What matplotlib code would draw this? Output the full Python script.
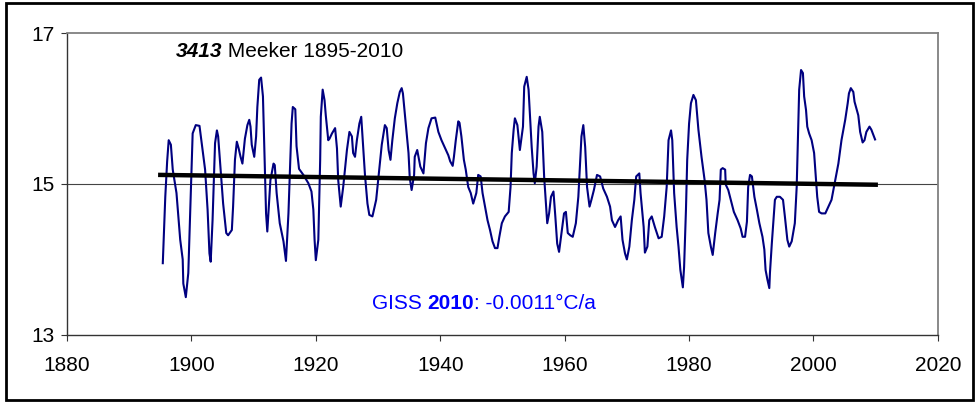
import matplotlib
matplotlib.use("Agg")
import matplotlib.pyplot as plt
import matplotlib.patches as patches
from matplotlib.transforms import offset_copy

plt.rcParams['font.family'] = ['Liberation Sans', 'DejaVu Sans']

# Station series (smoothed annual temperature, deg C)
years = [
    1895.4, 1895.8, 1896.1, 1896.35, 1896.7, 1897.0, 1897.6, 1898.2, 1898.6, 1898.7,
    1899.1, 1899.5, 1899.9, 1900.2, 1900.7, 1901.3, 1901.6, 1902.2, 1902.6, 1902.9,
    1903.1, 1903.4, 1903.8, 1904.1, 1904.3, 1904.7, 1905.1, 1905.6, 1905.9, 1906.5,
    1906.7, 1907.0, 1907.3, 1907.6, 1907.9, 1908.2, 1908.6, 1909.0, 1909.3, 1909.5,
    1909.7, 1910.1, 1910.4, 1910.6, 1910.9, 1911.2, 1911.5, 1911.7, 1912.0, 1912.2,
    1912.5, 1912.7, 1913.2, 1913.4, 1913.7, 1914.2, 1914.8, 1915.2, 1915.6, 1915.9,
    1916.1, 1916.3, 1916.7, 1916.9, 1917.3, 1918.0, 1918.8, 1919.3, 1919.6, 1919.8,
    1920.0, 1920.4, 1920.7, 1920.8, 1921.1, 1921.4, 1921.6, 1922.0, 1922.2, 1922.6,
    1923.1, 1923.4, 1923.6, 1924.0, 1924.4, 1925.0, 1925.4, 1925.8, 1926.0, 1926.3,
    1926.6, 1927.0, 1927.3, 1927.5, 1927.9, 1928.3, 1928.6, 1929.1, 1929.7, 1930.2,
    1930.6, 1931.1, 1931.4, 1931.7, 1932.0, 1932.3, 1932.7, 1933.1, 1933.5, 1933.8,
    1934.0, 1934.5, 1934.9, 1935.1, 1935.4, 1935.8, 1935.9, 1936.3, 1936.8, 1937.3,
    1937.7, 1938.1, 1938.6, 1939.2, 1939.7, 1940.2, 1940.8, 1941.3, 1941.6, 1942.0,
    1942.2, 1942.5, 1942.9, 1943.1, 1943.4, 1943.8, 1944.1, 1944.5, 1944.9, 1945.3,
    1945.8, 1946.1, 1946.5, 1946.8, 1947.2, 1947.6, 1948.0, 1948.4, 1948.8, 1949.2,
    1949.5, 1949.9, 1950.4, 1951.0, 1951.3, 1951.5, 1951.8, 1952.0, 1952.4, 1952.8,
    1953.3, 1953.5, 1953.9, 1954.2, 1954.4, 1954.7, 1955.0, 1955.2, 1955.5, 1955.8,
    1956.0, 1956.4, 1956.7, 1957.0, 1957.2, 1957.5, 1957.8, 1958.2, 1958.5, 1958.8,
    1959.1, 1959.5, 1959.9, 1960.2, 1960.5, 1960.9, 1961.3, 1961.8, 1962.2, 1962.5,
    1962.7, 1963.0, 1963.3, 1963.6, 1964.0, 1964.3, 1964.7, 1965.2, 1965.7, 1966.2,
    1966.8, 1967.3, 1967.6, 1968.1, 1968.6, 1969.0, 1969.3, 1969.7, 1970.0, 1970.4,
    1970.8, 1971.2, 1971.5, 1972.0, 1972.2, 1972.7, 1972.9, 1973.3, 1973.6, 1974.0,
    1974.5, 1975.1, 1975.6, 1976.0, 1976.4, 1976.7, 1977.1, 1977.3, 1977.6, 1978.0,
    1978.3, 1978.6, 1979.0, 1979.2, 1979.5, 1979.7, 1980.0, 1980.3, 1980.7, 1981.1,
    1981.5, 1982.0, 1982.5, 1982.8, 1983.1, 1983.5, 1983.8, 1984.2, 1984.6, 1984.9,
    1985.1, 1985.4, 1985.8, 1985.9, 1986.3, 1986.7, 1987.2, 1987.8, 1988.3, 1988.6,
    1989.0, 1989.3, 1989.5, 1989.8, 1990.1, 1990.5, 1990.9, 1991.3, 1991.8, 1992.1,
    1992.3, 1992.6, 1992.9, 1993.0, 1993.3, 1993.6, 1993.8, 1994.1, 1994.6, 1995.1,
    1995.4, 1995.8, 1996.1, 1996.5, 1997.0, 1997.3, 1997.5, 1997.7, 1998.0, 1998.3,
    1998.5, 1998.8, 1999.0, 1999.3, 1999.7, 2000.1, 2000.4, 2000.6, 2000.9, 2001.3,
    2001.9, 2002.4, 2002.9, 2003.4, 2004.0, 2004.5, 2005.1, 2005.5, 2005.7, 2006.0,
    2006.4, 2006.6, 2007.2, 2007.5, 2007.9, 2008.2, 2008.5, 2009.0, 2009.3, 2009.9,
]
temps = [
    13.95, 14.83, 15.30, 15.58, 15.52, 15.19, 14.88, 14.26, 14.00, 13.68,
    13.50, 13.82, 14.88, 15.67, 15.78, 15.77, 15.58, 15.19, 14.66, 14.08,
    13.97, 14.52, 15.54, 15.71, 15.63, 15.19, 14.74, 14.35, 14.32, 14.39,
    14.70, 15.32, 15.56, 15.47, 15.36, 15.27, 15.60, 15.78, 15.85, 15.76,
    15.52, 15.36, 15.63, 16.02, 16.38, 16.41, 16.16, 15.54, 14.61, 14.37,
    14.79, 15.05, 15.27, 15.25, 14.88, 14.48, 14.24, 13.98, 14.61, 15.32,
    15.80, 16.02, 15.99, 15.50, 15.20, 15.12, 15.01, 14.90, 14.66, 14.26,
    13.99, 14.26, 15.32, 15.89, 16.25, 16.11, 15.91, 15.58, 15.60, 15.67,
    15.74, 15.47, 15.05, 14.70, 14.96, 15.45, 15.69, 15.63, 15.41, 15.36,
    15.58, 15.80, 15.89, 15.63, 15.12, 14.74, 14.59, 14.57, 14.79, 15.19,
    15.52, 15.78, 15.74, 15.45, 15.32, 15.58, 15.87, 16.07, 16.22, 16.27,
    16.20, 15.76, 15.41, 15.08, 14.92, 15.12, 15.36, 15.45, 15.23, 15.14,
    15.54, 15.74, 15.87, 15.88, 15.69, 15.58, 15.47, 15.38, 15.30, 15.24,
    15.36, 15.58, 15.83, 15.81, 15.63, 15.32, 15.19, 14.96, 14.88, 14.74,
    14.88, 15.12, 15.10, 14.88, 14.70, 14.52, 14.39, 14.24, 14.15, 14.15,
    14.30, 14.48, 14.57, 14.63, 14.96, 15.41, 15.72, 15.87, 15.78, 15.45,
    15.76, 16.29, 16.42, 16.25, 15.94, 15.49, 15.14, 15.01, 15.23, 15.76,
    15.89, 15.69, 15.10, 14.74, 14.48, 14.61, 14.83, 14.90, 14.57, 14.21,
    14.10, 14.35, 14.61, 14.63, 14.35, 14.32, 14.30, 14.48, 14.83, 15.32,
    15.63, 15.78, 15.49, 14.96, 14.70, 14.79, 14.92, 15.12, 15.10, 14.94,
    14.83, 14.70, 14.52, 14.43, 14.52, 14.57, 14.26, 14.08, 14.00, 14.17,
    14.52, 14.79, 15.10, 15.14, 14.88, 14.43, 14.09, 14.17, 14.52, 14.57,
    14.43, 14.28, 14.30, 14.57, 14.96, 15.58, 15.71, 15.58, 14.88, 14.43,
    14.17, 13.86, 13.63, 13.90, 14.66, 15.32, 15.80, 16.07, 16.18, 16.11,
    15.72, 15.36, 15.05, 14.79, 14.35, 14.17, 14.06, 14.35, 14.61, 14.79,
    15.19, 15.21, 15.19, 14.99, 14.92, 14.79, 14.63, 14.52, 14.41, 14.30,
    14.30, 14.50, 14.96, 15.12, 15.10, 14.83, 14.66, 14.48, 14.30, 14.13,
    13.86, 13.73, 13.62, 13.82, 14.21, 14.57, 14.79, 14.83, 14.83, 14.79,
    14.57, 14.26, 14.17, 14.24, 14.48, 14.96, 15.58, 16.25, 16.51, 16.47,
    16.16, 15.98, 15.76, 15.67, 15.58, 15.41, 15.05, 14.83, 14.63, 14.61,
    14.61, 14.70, 14.79, 15.01, 15.27, 15.58, 15.85, 16.07, 16.20, 16.27,
    16.22, 16.09, 15.91, 15.69, 15.55, 15.58, 15.69, 15.76, 15.72, 15.59,
]

# Linear trend end points (-0.0011 C/a)
trend_years = [1895, 2010]
trend_temps = [15.12, 14.99]

x_ticks = [1880, 1900, 1920, 1940, 1960, 1980, 2000, 2020]
y_ticks = [13, 15, 17]

fig = plt.figure(figsize=(9.78, 4.03), dpi=100)
ax = fig.add_axes([0.0685, 0.169, 0.8905, 0.749])

ax.plot(years, temps, color='#000080', lw=1.5, zorder=3)
ax.plot(trend_years, trend_temps, color='black', lw=3.2, zorder=4)
ax.axhline(15, color='#444444', lw=0.8, zorder=1)

ax.set_xlim(1880, 2020)
ax.set_ylim(13, 17)
ax.set_xticks(x_ticks)
ax.set_yticks(y_ticks)
ax.tick_params(axis='both', direction='out', length=4, width=0.8,
               colors='#333333', labelcolor='black', labelsize=15)
ax.tick_params(axis='x', pad=11)
ax.tick_params(axis='y', pad=5)

for side in ['top', 'right']:
    ax.spines[side].set_color('#808080')
    ax.spines[side].set_linewidth(1.3)
for side in ['left', 'bottom']:
    ax.spines[side].set_color('#333333')
    ax.spines[side].set_linewidth(1.0)


def rich_text(x, y, parts, color):
    # parts: list of (text, weight, style); laid out one after another
    renderer = fig.canvas.get_renderer()
    dx = 0.0
    for txt, weight, style in parts:
        t = ax.text(x, y, txt, fontsize=15, color=color, fontweight=weight,
                    fontstyle=style, va='center', ha='left',
                    transform=offset_copy(ax.transAxes, fig=fig, x=dx, y=0, units='dots'))
        dx += t.get_window_extent(renderer).width


rich_text(0.125, 0.940, [('3413', 'bold', 'italic'),
                         (' Meeker 1895-2010', 'normal', 'normal')], 'black')
rich_text(0.350, 0.103, [('GISS ', 'normal', 'normal'),
                         ('2010', 'bold', 'normal'),
                         (': -0.0011°C/a', 'normal', 'normal')], '#0000ff')

# frame round the whole picture
fig.patches.append(patches.Rectangle((6 / 978, 3 / 403), 967 / 978, 397 / 403,
                                     transform=fig.transFigure,
                                     fill=False, edgecolor='black', lw=2.0))

fig.savefig('out.png', dpi=100)
